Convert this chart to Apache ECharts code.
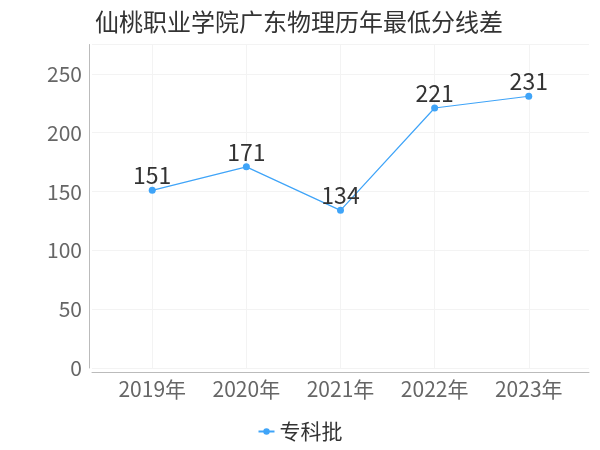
<!DOCTYPE html>
<html><head><meta charset="utf-8">
<script src="https://cdn.jsdelivr.net/npm/echarts@6/dist/echarts.min.js"></script>
<style>html,body{margin:0;padding:0;background:#fff}#c{width:600px;height:450px}</style>
</head><body><div id="c"></div>
<script>
var categories = ['2019年','2020年','2021年','2022年','2023年'];
var values = [151, 171, 134, 221, 231];
var yTicks = [0, 50, 100, 150, 200, 250];
var seriesName = '专科批';
var titleText = '仙桃职业学院广东物理历年最低分线差';

var chart = echarts.init(document.getElementById('c'));
var font = '"Noto Sans CJK SC", "Noto Sans", sans-serif';
var idx = categories.map(function (c, i) { return i; });
chart.setOption({
  animation: false,
  textStyle: {fontFamily: font},
  title: {text: titleText, left: 90, top: 5, textStyle: {fontSize: 24, fontWeight: 'normal', color: '#333', fontFamily: font}},
  legend: {data: [seriesName], bottom: 3, left: 'center', itemWidth: 16, itemHeight: 8,
    textStyle: {fontSize: 21, color: '#333', fontFamily: font}},
  grid: {left: 92, right: 11, top: 44.5, bottom: 82},
  xAxis: {
    type: 'value', min: -0.64, max: 4.64, offset: 4,
    axisLine: {show: true, onZero: false, lineStyle: {color: '#bbb'}},
    axisTick: {show: false, customValues: idx},
    splitLine: {show: true, lineStyle: {color: '#f3f3f3'}},
    axisLabel: {customValues: idx, fontSize: 21, color: '#666', margin: 7,
      formatter: function (v) { var i = Math.round(v); return categories[i] || ''; }}
  },
  yAxis: {
    type: 'value', min: 0, max: 275, interval: 50, offset: 3,
    axisLine: {show: true, onZero: false, lineStyle: {color: '#bbb'}},
    axisTick: {show: false},
    splitLine: {show: true, lineStyle: {color: '#f3f3f3'}},
    axisLabel: {showMaxLabel: false, fontSize: 21, color: '#666', margin: 7}
  },
  series: [{
    name: seriesName, type: 'line',
    data: values.map(function (v, i) { return [i, v]; }),
    symbol: 'circle', symbolSize: 7,
    itemStyle: {color: '#3fa4f8'},
    lineStyle: {width: 1.2, color: '#3fa4f8'},
    label: {show: true, position: 'top', distance: 0, fontSize: 23, color: '#333', fontFamily: font}
  }]
});
</script></body></html>
